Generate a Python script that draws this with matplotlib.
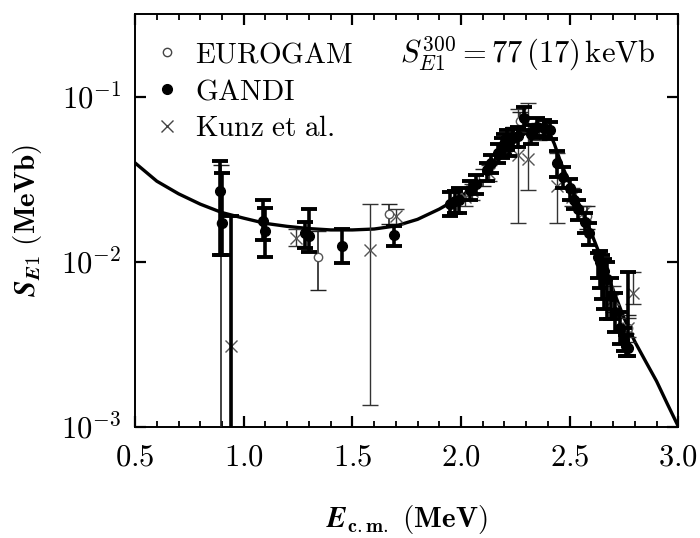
import matplotlib
matplotlib.use("Agg")
import matplotlib.pyplot as plt
from matplotlib.lines import Line2D
from matplotlib.ticker import MultipleLocator, NullLocator, FixedLocator
import numpy as np

plt.rcParams['mathtext.fontset'] = 'cm'
plt.rcParams['mathtext.default'] = 'rm'
plt.rcParams['font.family'] = ['DejaVu Serif']

# R-matrix fit curve
curve_x = [0.5, 0.6, 0.7, 0.8, 0.9, 1.0, 1.1, 1.2, 1.3, 1.4, 1.5, 1.6, 1.7, 1.8, 1.9,
           2.0, 2.1, 2.15, 2.2, 2.25, 2.3, 2.35, 2.38, 2.4, 2.43, 2.46, 2.5, 2.55, 2.6,
           2.65, 2.7, 2.75, 2.8, 2.85, 2.9, 2.95, 3.0]
curve_y = [0.040, 0.031, 0.026, 0.0225, 0.020, 0.0185, 0.0172, 0.0165, 0.0160, 0.0157,
           0.0157, 0.0159, 0.0166, 0.0182, 0.0210, 0.0250, 0.032, 0.038, 0.046, 0.055,
           0.061, 0.065, 0.066, 0.064, 0.052, 0.040, 0.030, 0.0215, 0.0150, 0.0102,
           0.0068, 0.0046, 0.0033, 0.0025, 0.0019, 0.00138, 0.00101]

# GANDI (filled circles)
g_x = [0.89, 0.90, 0.94, 1.09, 1.10, 1.28, 1.30, 1.45, 1.69, 1.95, 1.97, 1.99, 2.04,
       2.07, 2.12, 2.14, 2.17, 2.19, 2.20, 2.21, 2.22, 2.24, 2.26, 2.29, 2.32, 2.35,
       2.38, 2.41, 2.44, 2.47, 2.50, 2.52, 2.54, 2.57, 2.59, 2.63, 2.64, 2.65, 2.66,
       2.67, 2.69, 2.71, 2.73, 2.75, 2.76, 2.77]
g_y = [0.027, 0.0172, 0.0008, 0.0178, 0.0155, 0.0150, 0.0144, 0.0126, 0.0147, 0.0225,
       0.0235, 0.0240, 0.0276, 0.0300, 0.036, 0.040, 0.046, 0.050, 0.052, 0.055, 0.050,
       0.057, 0.058, 0.075, 0.060, 0.066, 0.065, 0.063, 0.040, 0.033, 0.028, 0.024,
       0.021, 0.0175, 0.0150, 0.0108, 0.0100, 0.0094, 0.0088, 0.0079, 0.0062, 0.0050,
       0.0040, 0.0034, 0.0031, 0.0030]
g_lo = [0.011, 0.011, 0.0001, 0.0137, 0.0108, 0.0122, 0.0116, 0.0099, 0.0125, 0.019,
        0.020, 0.020, 0.024, 0.026, 0.031, 0.035, 0.040, 0.043, 0.045, 0.048, 0.044,
        0.050, 0.050, 0.063, 0.052, 0.057, 0.058, 0.056, 0.033, 0.028, 0.024, 0.021,
        0.018, 0.0150, 0.0128, 0.0080, 0.0070, 0.0060, 0.0052, 0.0045, 0.0045, 0.0038,
        0.0032, 0.0029, 0.0027, 0.0027]
g_hi = [0.041, 0.035, 0.019, 0.024, 0.0213, 0.0175, 0.0209, 0.0158, 0.0165, 0.0265,
        0.027, 0.028, 0.031, 0.034, 0.040, 0.045, 0.052, 0.057, 0.060, 0.063, 0.057,
        0.064, 0.066, 0.087, 0.068, 0.075, 0.073, 0.071, 0.047, 0.038, 0.032, 0.027,
        0.024, 0.0200, 0.0172, 0.0114, 0.0117, 0.0110, 0.0105, 0.0100, 0.0080, 0.0065,
        0.0050, 0.0040, 0.0036, 0.0087]

# EUROGAM (open circles)
e_x = [0.895, 1.34, 1.67, 2.10, 2.24, 2.27, 2.58, 2.77]
e_y = [0.0172, 0.0108, 0.0195, 0.033, 0.058, 0.072, 0.019, 0.0040]
e_lo = [0.0002, 0.0068, 0.017, 0.029, 0.050, 0.062, 0.016, 0.0033]
e_hi = [0.039, 0.0155, 0.0227, 0.037, 0.066, 0.082, 0.022, 0.0048]

# Kunz et al. (crosses)
k_x = [0.94, 1.24, 1.58, 1.70, 2.02, 2.05, 2.13, 2.26, 2.31, 2.36, 2.44, 2.51, 2.56,
       2.70, 2.79, 2.77]
k_y = [0.0031, 0.0141, 0.0119, 0.0190, 0.025, 0.027, 0.035, 0.045, 0.042, 0.063, 0.029,
       0.025, 0.020, 0.0060, 0.0065, 0.0040]
k_lo = [0.0001, 0.0125, 0.00137, 0.017, 0.022, 0.024, 0.031, 0.0174, 0.0276, 0.055,
        0.0174, 0.022, 0.018, 0.0050, 0.0056, 0.0035]
k_hi = [0.019, 0.016, 0.0227, 0.021, 0.028, 0.030, 0.039, 0.085, 0.093, 0.070, 0.046,
        0.028, 0.022, 0.0072, 0.0087, 0.0046]

x_ticks = [0.5, 1.0, 1.5, 2.0, 2.5, 3.0]
x_ticklabels = ['$0.5$', '$1.0$', '$1.5$', '$2.0$', '$2.5$', '$3.0$']
y_ticks = [1e-3, 1e-2, 1e-1]
y_ticklabels = ['$10^{-3}$', '$10^{-2}$', '$10^{-1}$']


def yerr(y, lo, hi):
    y = np.array(y); lo = np.array(lo); hi = np.array(hi)
    return np.vstack([y - lo, hi - y])


fig = plt.figure(figsize=(7.0, 5.38), dpi=100)
ax = fig.add_axes([0.193, 0.206, 0.776, 0.768])

ax.plot(curve_x, curve_y, color='black', lw=2.4, zorder=2)

ax.errorbar(k_x, k_y, yerr=yerr(k_y, k_lo, k_hi), fmt='x', color='#555555', ms=9,
            mew=1.0, ecolor='#333333', elinewidth=1.0, capsize=5.5, capthick=2.5, zorder=3)
ax.errorbar(e_x, e_y, yerr=yerr(e_y, e_lo, e_hi), fmt='o', mfc='white', mec='#555555',
            ms=6, mew=1.0, ecolor='#222222', elinewidth=1.2, capsize=5.5, capthick=2.5,
            zorder=4)
ax.errorbar(g_x, g_y, yerr=yerr(g_y, g_lo, g_hi), fmt='o', color='black', ms=7,
            ecolor='black', elinewidth=2.6, capsize=5.5, capthick=2.8, zorder=5)

ax.set_yscale('log')
ax.set_xlim(0.5, 3.0)
ax.set_ylim(1e-3, 0.32)

ax.xaxis.set_major_locator(FixedLocator(x_ticks))
ax.set_xticklabels(x_ticklabels)
ax.xaxis.set_minor_locator(MultipleLocator(0.1))
ax.yaxis.set_major_locator(FixedLocator(y_ticks))
ax.set_yticklabels(y_ticklabels)
ax.yaxis.set_minor_locator(NullLocator())

ax.tick_params(which='both', direction='in', top=True, right=True, labelsize=22)
ax.tick_params(which='major', length=8, width=1.6)
ax.tick_params(which='minor', length=4, width=1.3)
ax.tick_params(axis='x', pad=10)
ax.tick_params(axis='y', pad=10)
for s in ax.spines.values():
    s.set_linewidth(1.4)

ax.set_xlabel(r'$\mathbfit{E}_{\mathbf{c.m.}}\ \mathbf{(MeV)}$', fontsize=21, labelpad=22)
ax.set_ylabel(r'$\mathbfit{S}_{\mathbfit{E}\mathbf{1}}\ \mathbf{(MeVb)}$', fontsize=21,
              labelpad=12)

handles = [
    Line2D([], [], ls='none', marker='o', mfc='white', mec='#444444', ms=6, mew=1.0),
    Line2D([], [], ls='none', marker='o', color='black', ms=7),
    Line2D([], [], ls='none', marker='x', color='#444444', ms=9, mew=1.0),
]
labels = [r'$\mathrm{EUROGAM}$', r'$\mathrm{GANDI}$', r'$\mathrm{Kunz\ et\ al.}$']
ax.legend(handles, labels, loc='upper left', frameon=False, fontsize=21,
          handlelength=0.7, handletextpad=0.6, labelspacing=0.3,
          borderaxespad=0.3, bbox_to_anchor=(0.003, 0.985))

ax.text(0.958, 0.905, r'$\mathit{S}_{\mathit{E}1}^{300} = 77\,(17)\,\mathrm{keVb}$',
        transform=ax.transAxes, ha='right', va='center', fontsize=22)

fig.savefig('out.png', dpi=100)
